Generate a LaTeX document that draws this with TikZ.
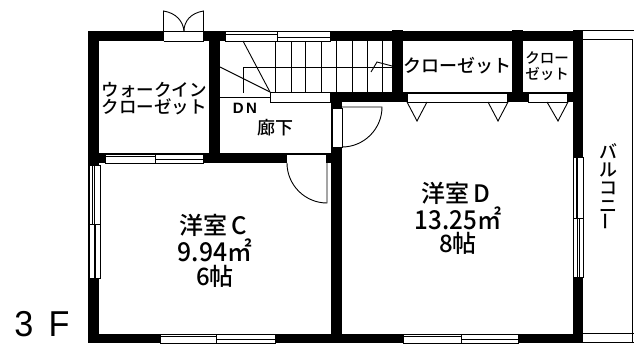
\documentclass[tikz,border=0pt]{standalone}
\usepackage{fontspec}
\usepackage{graphicx}
\newfontfamily\jp{Noto Sans CJK JP}[BoldFont={* Medium}]
\newfontfamily\lat{Liberation Sans}
\newcommand{\fz}[1]{\fontsize{#1}{#1}\selectfont}
\newcommand{\wallbox}[4]{\fill[black] (#1,#2) rectangle (#3,#4);}
\newcommand{\winH}[5]{\fill[white] (#1,#2) rectangle (#3,#4);
  \draw[thinline] (#1,#2) rectangle (#3,#4);
  \draw[thinline] (#1,{#2+0.3*(#4-#2)}) -- (#5,{#2+0.3*(#4-#2)});
  \draw[thinline] (#5,{#2+0.6*(#4-#2)}) -- (#3,{#2+0.6*(#4-#2)});
  \draw[thinline] (#5,#2) -- (#5,#4);}
\newcommand{\winV}[5]{\fill[white] (#1,#2) rectangle (#3,#4);
  \draw[thinline] (#1,#2) rectangle (#3,#4);
  \draw[thinline] ({#1+0.3*(#3-#1)},#2) -- ({#1+0.3*(#3-#1)},#5);
  \draw[thinline] ({#1+0.6*(#3-#1)},#5) -- ({#1+0.6*(#3-#1)},#4);
  \draw[thinline] ({#1+0.45*(#3-#1)},#2) -- ({#1+0.45*(#3-#1)},#4);
  \draw[thinline] (#1,#5) -- (#3,#5);}
\tikzset{
  thinline/.style={line width=0.9pt,black},
  label/.style={inner sep=0pt,outer sep=0pt,align=center,font=\jp\bfseries,text=black},
}
\begin{document}
\begin{tikzpicture}[x=1pt,y=-1pt]
\useasboundingbox (0,0) rectangle (634,343);
\fill[white] (0,0) rectangle (634,343);
% balcony
\draw[thinline] (583,30) -- (634,30);
\draw[thinline] (583,39.5) -- (632,39.5) -- (632,343);
\draw[thinline] (583,333.5) -- (634,333.5);
\draw[thinline] (583,342) -- (634,342);
% outer walls
\wallbox{88}{31}{582}{41}
\wallbox{88}{31}{99}{343}
\wallbox{88}{334}{583}{343}
\wallbox{573}{30}{583}{343}
% inner walls
\wallbox{209}{31}{220}{163}
\wallbox{88}{153}{338}{163}
\wallbox{331}{93}{342}{343}
\wallbox{330}{92}{582}{102}
\wallbox{392}{30}{403}{92}
\wallbox{512}{30}{523}{92}
% top door
\fill[white] (164,31) rectangle (203,41);
\draw[thinline] (163.5,41) -- (163.5,31) -- (203.5,31) -- (203.5,41);
\draw[thinline] (163.5,41) -- (203.5,41);
\draw[thinline] (163.5,31) -- (163.5,11) .. controls (176,13) and (183,21) .. (184,31);
\draw[thinline] (203.5,31) -- (203.5,11) .. controls (191,13) and (184,21) .. (184,31);
% windows
\winH{225}{31}{330}{41}{277}
\winH{105}{154}{203}{163}{155}
\winH{160}{334}{275}{343}{216}
\winH{403}{334}{518}{343}{461}
\winV{89}{165}{100}{278}{224}
\winV{573}{157}{583}{277}{218}
% stair + landing
\fill[white] (270,93) rectangle (330,102);
\draw[thinline] (270,93) -- (270,102) -- (331,102);
\draw[thinline] (220,97.5) -- (270,97.5);
\foreach \xx in {275,291,305,321,336,352,367,382} {\draw[thinline] (\xx,41) -- (\xx,92);}
\draw[thinline] (243,93) -- (243,67) -- (392,67);
\draw[thinline] (270,92.5) -- (392,92.5);
\draw[thinline] (243,41) -- (270,92);
\draw[thinline] (220,67) -- (270,92);
\draw[thinline] (371,72) -- (377,62) -- (392,66);
% door openings
\fill[white] (287,154) rectangle (326,163);
\draw[thinline] (287,154) -- (326,154) -- (326,163);
\fill[white] (332,108) rectangle (342,147);
\draw[thinline] (332,108) rectangle (342,147);
% closet openings
\fill[white] (407,93) rectangle (507,102);
\draw[thinline] (407,93) rectangle (507,102);
\fill[white] (528,93) rectangle (567,102);
\draw[thinline] (528,93) rectangle (567,102);
% folding doors
\draw[thinline] (407,102) -- (417,121) -- (427,102);
\draw[thinline] (488,102) -- (498,121) -- (508,102);
\draw[thinline] (547,102) -- (558,121) -- (568,102);
% door leaves
\draw[thinline] (327,163) -- (327,203) .. controls (305,203) and (287,185) .. (287,163);
\draw[thinline] (342,107) -- (382,107) .. controls (382,129) and (364,147) .. (342,147);
% labels
\node[label] (wic1) at (154,90) {\fz{17.5}ウォークイン};
\node[label] (wic2) at (154,107) {\fz{17.5}クローゼット};
\node[label] (dn) at (245,108) {\lat\bfseries\fz{15}D\,N};
\node[label] (hall) at (275,128) {\fz{18}廊下};
\node[label] (cl1) at (457,66) {\fz{18}クローゼット};
\node[label] (cl2a) at (547,58) {\fz{14.5}クロー};
\node[label] (cl2b) at (547,74) {\fz{14.5}ゼット};
\node[label,font=\jp\bfseries\fz{18}] (bal) at (608,187) {バ\\ル\\コ\\ニ\\\rotatebox{90}{ー}};
\node[label] (rc1) at (213,225) {\fz{24}洋室\,C};
\node[label] (rc2) at (215,250) {\scalebox{0.95}[1]{\fz{26}9.94㎡}};
\node[label] (rc3) at (215,276) {\fz{24}6帖};
\node[label] (rd1) at (456,193) {\fz{24}洋室\,D};
\node[label] (rd2) at (458,218) {\scalebox{0.93}[1]{\fz{26}13.25㎡}};
\node[label] (rd3) at (458,243) {\fz{24}8帖};
\node[label,font=\lat,anchor=base] (floor) at (42,336) {\scalebox{0.95}[1]{\fz{36}3\hspace{16pt}F}};
\end{tikzpicture}
\end{document}
